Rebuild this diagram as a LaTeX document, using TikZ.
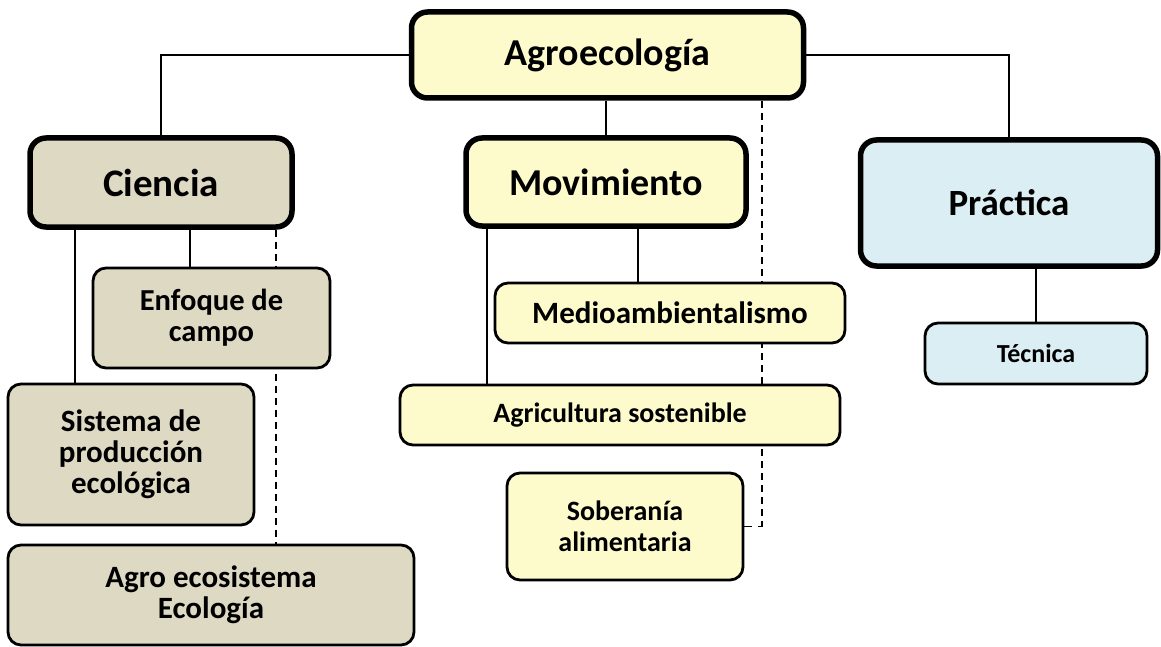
\documentclass[tikz,border=0pt]{standalone}
\usepackage{fontspec}
\setmainfont{Carlito}
\usetikzlibrary{backgrounds}
\definecolor{yel}{RGB}{253,251,204}
\definecolor{tan}{RGB}{221,217,195}
\definecolor{blu}{RGB}{219,238,243}
\begin{document}
\begin{tikzpicture}[x=1pt,y=-1pt,
  thickbox/.style={draw=black, line width=5.5pt, rounded corners=16pt, align=center, inner sep=0pt},
  thinbox/.style={draw=black, line width=2.8pt, rounded corners=13pt, align=center, inner sep=0pt},
  conn/.style={draw=black, line width=1.8pt},
  dconn/.style={draw=black, line width=1.8pt, dash pattern=on 7pt off 5pt},
  fs/.style={font=\bfseries\fontsize{#1}{#1}\selectfont}]
\useasboundingbox (0,0) rectangle (1161,647);
% main boxes
\node[thickbox, fill=yel, minimum width=392pt, minimum height=86pt, fs=38] (agro) at (607.5,55) {Agroecología};
\node[thickbox, fill=tan, minimum width=262pt, minimum height=89pt, fs=39] (ciencia) at (161,182.5) {Ciencia};
\node[thickbox, fill=yel, minimum width=280pt, minimum height=88pt, fs=38] (mov) at (606,182) {Movimiento};
\node[thickbox, fill=blu, minimum width=297pt, minimum height=126pt, fs=37] (prac) at (1009,203) {Práctica};
% sub boxes
\node[thinbox, fill=tan, minimum width=237pt, minimum height=100pt, font=\bfseries\fontsize{30.5}{31}\selectfont] (enfoque) at (211.5,318) {Enfoque de\\campo};
\node[thinbox, fill=tan, minimum width=246pt, minimum height=141pt, font=\bfseries\fontsize{31}{31}\selectfont] (sistema) at (131,454.5) {Sistema de\\producción\\ecológica};
\node[thinbox, fill=tan, minimum width=406pt, minimum height=100pt, font=\bfseries\fontsize{31}{31}\selectfont] (ecosis) at (211,595) {Agro ecosistema\\Ecología};
\node[thinbox, fill=yel, minimum width=350pt, minimum height=60pt, fs=31] (medio) at (670,313) {Medioambientalismo};
\node[thinbox, fill=yel, minimum width=440pt, minimum height=60pt, fs=28] (agri) at (620,415) {Agricultura sostenible};
\node[thinbox, fill=yel, minimum width=236pt, minimum height=107pt, font=\bfseries\fontsize{28}{31}\selectfont] (sober) at (625,526.5) {Soberanía\\alimentaria};
\node[thinbox, fill=blu, minimum width=222pt, minimum height=61pt, fs=26] (tecnica) at (1036,353.5) {Técnica};
% connectors
\coordinate (dk) at (762,0 |- sober.east);
\begin{pgfonlayer}{background}
\draw[conn] (agro.west) -| (ciencia.north);
\draw[conn] (agro.east) -| (prac.north);
\draw[conn] (agro.south -| mov.north) -- (mov.north);
\draw[dconn] (dk |- agro.south) -- (dk);
\draw[dconn, dash pattern=on 8pt off 6pt] (sober.east) -- (dk);
\draw[conn] (75,0 |- ciencia.south) -- (75,0 |- sistema.north);
\draw[conn] (190,0 |- ciencia.south) -- (190,0 |- enfoque.north);
\draw[dconn] (276,0 |- ciencia.south) -- (276,0 |- ecosis.north);
\draw[conn] (487,0 |- mov.south) -- (487,0 |- agri.north);
\draw[conn] (638,0 |- mov.south) -- (638,0 |- medio.north);
\draw[conn] (prac.south -| tecnica.north) -- (tecnica.north);
\end{pgfonlayer}
\end{tikzpicture}
\end{document}
